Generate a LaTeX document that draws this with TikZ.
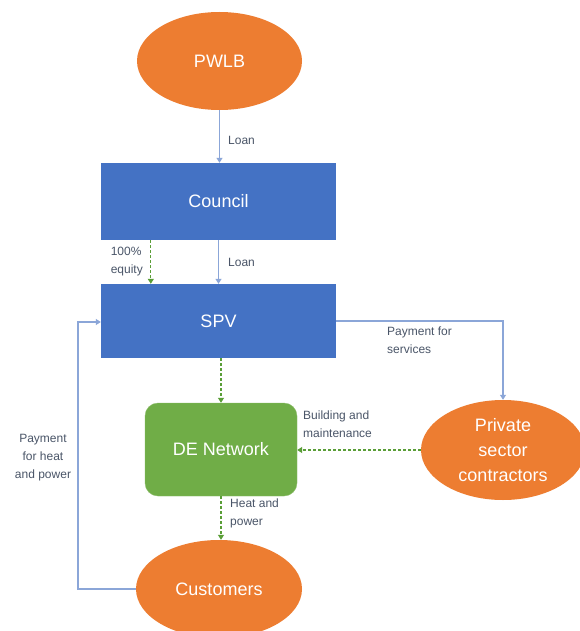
\documentclass[tikz,border=0pt]{standalone}
\usepackage{fontspec}
\setmainfont{Liberation Sans}
\usetikzlibrary{shapes.geometric,arrows.meta}
\definecolor{boxblue}{HTML}{4472C4}
\definecolor{ovalorange}{HTML}{ED7D31}
\definecolor{netgreen}{HTML}{70AD47}
\definecolor{flowblue}{HTML}{8BA6D8}
\definecolor{flowgreen}{HTML}{5A9E37}
\definecolor{notegrey}{HTML}{4A5568}
\tikzset{
  oval/.style={ellipse, fill=ovalorange, draw=none, text=white,
    font=\fontsize{18}{25}\selectfont, align=center, inner sep=0pt},
  bluebox/.style={rectangle, fill=boxblue, draw=none, text=white,
    font=\fontsize{18}{25}\selectfont, minimum width=235pt, inner sep=0pt},
  greenbox/.style={rectangle, rounded corners=13pt, fill=netgreen, draw=netgreen!80!white,
    text=white, font=\fontsize{18}{25}\selectfont, minimum width=152pt,
    minimum height=93pt, inner sep=0pt},
  money/.style={draw=flowblue, line width=1.1pt, -{Triangle[width=6pt,length=5pt]}},
  work/.style={draw=flowgreen, line width=1.1pt, dash pattern=on 3pt off 2pt,
    -{Triangle[width=6pt,length=5pt]}},
  note/.style={text=notegrey, font=\fontsize{12}{18}\selectfont, inner sep=0pt}
}
\begin{document}
\begin{tikzpicture}[x=1pt,y=-1pt]
\useasboundingbox (0,0) rectangle (579,631);
\fill[white] (0,0) rectangle (579,631);

% organisations
\node[oval, minimum width=165pt, minimum height=98pt] (pwlb) at (219.5,61) {PWLB};
\node[bluebox, minimum height=77pt] (council) at (218.5,201.5) {Council};
\node[bluebox, minimum height=74pt] (spv) at (218.5,321) {SPV};
\node[greenbox] (de) at (221,449.5) {DE Network};
\node[oval, minimum width=164pt, minimum height=100pt] (private) at (503,450)
  {Private\\sector\\contractors};
\node[oval, minimum width=166pt, minimum height=98pt] (cust) at (219,589) {Customers};

% corner points of the routed connectors
\coordinate (svcbend) at (private.north |- spv.east);
\coordinate (paylow) at (78,589);
\coordinate (payhigh) at (78,322);

% money flows
\draw[money] (pwlb.south) -- (pwlb.south |- council.north);
\draw[money] (council.south) -- (spv.north);
\draw[money] (spv.east) -- (svcbend) -- (private.north);
\draw[money] (cust.west) -- (paylow) -- (payhigh) -- (payhigh -| spv.west);

% ownership and services
\draw[work] ([xshift=50pt]council.south west) -- ([xshift=50pt]spv.north west);
\draw[work] (de.north |- spv.south) -- (de.north);
\draw[work] (private.west) -- (private.west -| de.east);
\draw[work] (de.south) -- (de.south |- cust.north);

% flow labels
\node[note, anchor=west] (lloan1) at (228,140) {Loan};
\node[note, anchor=west] (lloan2) at (228,262) {Loan};
\node[note, anchor=east, align=left] (lequity) at (143,262) {100\%\\equity};
\node[note, anchor=north west, align=left] (lsvc) at (387,327) {Payment for\\services};
\node[note, anchor=north west, align=left] (lbuild) at (303,411) {Building and\\maintenance};
\node[note, anchor=north west, align=left] (lheat) at (230,499) {Heat and\\power};
\node[note, align=center] (lpay) at (43,458) {Payment\\for heat\\and power};
\end{tikzpicture}
\end{document}
